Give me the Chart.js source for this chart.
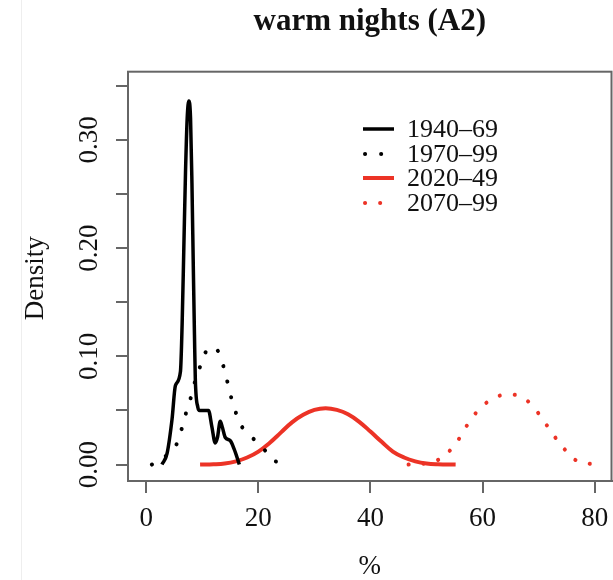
<!DOCTYPE html>
<html>
<head>
<meta charset="utf-8">
<script src="https://cdn.jsdelivr.net/npm/chart.js@4/dist/chart.umd.min.js"></script>
<style>
  body { margin: 0; background: #fff; }
  #wrap { position: relative; width: 613px; height: 580px; }
  #edge { position: absolute; left: 21px; top: 0; width: 1px; height: 580px; background: #eeeeee; }
  canvas { position: absolute; left: 0; top: 0; }
</style>
</head>
<body>
<div id="wrap">
  <div id="edge"></div>
  <canvas id="chart" width="613" height="580"></canvas>
</div>
<script>
// Period labels
const periods = ['1940\u201369', '1970\u201399', '2020\u201349', '2070\u201399'];

// Density curves (x = %, y = density)
const x1940 = [2.8, 3.7, 4.6, 5.2, 6.1, 6.4, 6.7, 7.0, 7.3, 7.6, 7.9, 8.15, 8.4, 8.6, 8.75, 9.2, 9.5, 10.3, 11.1, 11.7, 12.3, 12.7, 13.2, 13.6, 14.1, 15.0, 15.7, 16.3, 16.6];
const y1940 = [0.000, 0.010, 0.042, 0.073, 0.086, 0.130, 0.200, 0.270, 0.320, 0.336, 0.320, 0.260, 0.180, 0.120, 0.079, 0.053, 0.050, 0.050, 0.050, 0.035, 0.020, 0.025, 0.040, 0.034, 0.025, 0.022, 0.014, 0.005, 0.000];

const x1970 = [1.0, 3.0, 5.2, 6.2, 7.0, 7.9, 8.6, 9.5, 10.5, 11.5, 12.4, 13.5, 14.3, 15.0, 15.8, 16.8, 18.7, 20.7, 22.6, 23.5];
const y1970 = [0.000, 0.006, 0.017, 0.031, 0.046, 0.061, 0.075, 0.089, 0.103, 0.108, 0.108, 0.095, 0.080, 0.065, 0.051, 0.037, 0.026, 0.016, 0.0045, 0.002];

const x2020 = [9.6, 12, 14, 16, 18, 20, 22, 24, 26, 28, 30, 32, 34, 36, 38, 40, 42, 44, 46, 48, 50, 52, 55.2];
const y2020 = [0.0000, 0.0003, 0.0010, 0.0030, 0.0065, 0.0120, 0.0200, 0.0295, 0.0390, 0.0460, 0.0505, 0.0520, 0.0505, 0.0465, 0.0395, 0.0305, 0.0210, 0.0120, 0.0065, 0.0030, 0.0010, 0.0003, 0.0000];

const x2070 = [46.8, 49.8, 52.5, 54.6, 56.2, 57.7, 59.6, 61.9, 64.6, 67.4, 69.4, 71.1, 72.7, 74.5, 76.5, 79.3];
const y2070 = [0.000, 0.001, 0.0055, 0.0154, 0.027, 0.040, 0.052, 0.061, 0.065, 0.061, 0.051, 0.039, 0.027, 0.015, 0.0045, 0.0005];

// Axis ticks
const xTicks = [0, 20, 40, 60, 80];
const yTicks = [0, 0.05, 0.10, 0.15, 0.20, 0.25, 0.30, 0.35];
const yTickLabels = ['0.00', '0.10', '0.20', '0.30'];
const yLabelValues = [0, 0.10, 0.20, 0.30];

const RED = '#ec3326';
const AXIS = '#666666';
const SERIF = '"Liberation Serif", "DejaVu Serif", serif';

function pts(xs, ys) {
  return xs.map((x, i) => ({ x: x, y: ys[i] }));
}

// box, rotated y labels, y title, legend
const extras = {
  id: 'extras',
  afterDraw(chart) {
    const ctx = chart.ctx;
    const a = chart.chartArea;
    const yScale = chart.scales.y;
    ctx.save();

    ctx.strokeStyle = AXIS;
    ctx.lineWidth = 2;
    ctx.strokeRect(a.left, a.top, a.right - a.left, a.bottom - a.top);

    ctx.fillStyle = '#111';
    ctx.font = '27px ' + SERIF;
    ctx.textAlign = 'center';
    ctx.textBaseline = 'alphabetic';
    yLabelValues.forEach((v, i) => {
      ctx.save();
      ctx.translate(97, yScale.getPixelForValue(v));
      ctx.rotate(-Math.PI / 2);
      ctx.fillText(yTickLabels[i], 0, 0);
      ctx.restore();
    });

    ctx.save();
    ctx.translate(43, (a.top + a.bottom) / 2 + 2);
    ctx.rotate(-Math.PI / 2);
    ctx.fillText('Density', 0, 0);
    ctx.restore();

    // legend
    const rowY = [129, 154, 178, 203];
    ctx.font = '26px ' + SERIF;
    ctx.textAlign = 'left';
    ctx.textBaseline = 'middle';
    chart.data.datasets.forEach((ds, i) => {
      ctx.save();
      ctx.strokeStyle = ds.borderColor;
      ctx.lineWidth = ds.borderWidth;
      ctx.lineCap = ds.borderCapStyle || 'butt';
      ctx.setLineDash(ds.borderDash || []);
      ctx.lineDashOffset = -2;
      ctx.beginPath();
      ctx.moveTo(363, rowY[i]);
      ctx.lineTo(394, rowY[i]);
      ctx.stroke();
      ctx.restore();
      ctx.fillStyle = '#111';
      ctx.fillText(ds.label, 407, rowY[i] + 1);
    });

    ctx.restore();
  }
};

new Chart(document.getElementById('chart'), {
  type: 'line',
  data: {
    datasets: [
      { label: periods[0], data: pts(x1940, y1940), borderColor: '#000', borderWidth: 3.5, cubicInterpolationMode: 'monotone' },
      { label: periods[1], data: pts(x1970, y1970), borderColor: '#000', borderWidth: 4, borderDash: [0.1, 16], borderCapStyle: 'round', tension: 0.4 },
      { label: periods[2], data: pts(x2020, y2020), borderColor: RED, borderWidth: 4, tension: 0.4 },
      { label: periods[3], data: pts(x2070, y2070), borderColor: RED, borderWidth: 4, borderDash: [0.1, 15], borderCapStyle: 'round', tension: 0.4 }
    ]
  },
  options: {
    responsive: false,
    animation: false,
    datasets: { line: { pointRadius: 0, fill: false } },
    layout: { padding: { left: 116, right: 1.5, top: 0, bottom: 0 } },
    plugins: {
      legend: { display: false },
      tooltip: { enabled: false },
      title: {
        display: true,
        fullSize: false,
        text: 'warm nights (A2)',
        color: '#111',
        font: { family: SERIF, size: 31, weight: 'bold' },
        padding: { top: 3, bottom: 31.5 }
      }
    },
    scales: {
      x: {
        type: 'linear',
        min: -3.26,
        max: 83.01,
        afterBuildTicks: (s) => { s.ticks = xTicks.map(v => ({ value: v })); },
        afterFit: (s) => { s.paddingLeft = 0; s.paddingRight = 0; },
        grid: { drawOnChartArea: false, drawTicks: true, tickLength: 12, color: AXIS, lineWidth: 2 },
        border: { display: true, color: AXIS, width: 2 },
        ticks: { color: '#111', font: { family: SERIF, size: 27 }, padding: 10, maxRotation: 0, callback: (v) => String(v) },
        title: { display: true, text: '%', color: '#111', font: { family: SERIF, size: 27, lineHeight: 1 }, padding: { top: 7.6, bottom: 0 } }
      },
      y: {
        type: 'linear',
        min: -0.0152,
        max: 0.3631,
        afterBuildTicks: (s) => { s.ticks = yTicks.map(v => ({ value: v })); },
        grid: { drawOnChartArea: false, drawTicks: true, tickLength: 12, color: AXIS, lineWidth: 2 },
        border: { display: true, color: AXIS, width: 2 },
        ticks: { display: false }
      }
    }
  },
  plugins: [extras]
});
</script>
</body>
</html>
